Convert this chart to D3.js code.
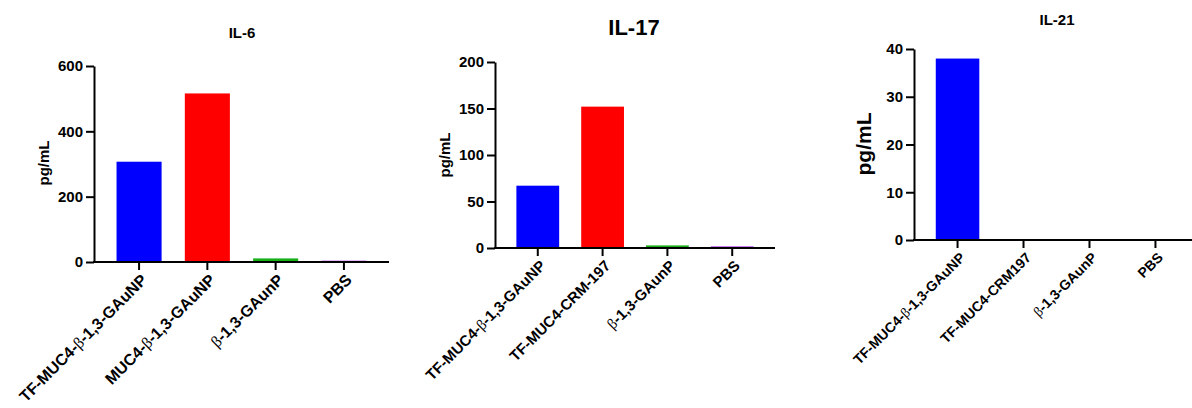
<!DOCTYPE html>
<html>
<head>
<meta charset="utf-8">
<script src="https://cdn.jsdelivr.net/npm/d3@7"></script>
<style>
  body { margin: 0; background: #fff; }
  svg { font-family: Arial, "Liberation Sans", sans-serif; }
</style>
</head>
<body>
<svg id="chart" width="1192" height="408"></svg>
<script>
// data
const il6Categories = ["TF-MUC4-β-1,3-GAuNP", "MUC4-β-1,3-GAuNP", "β-1,3-GAunP", "PBS"];
const il6Values = [307, 516, 11, 4];
const il6Ticks = [0, 200, 400, 600];

const il17Categories = ["TF-MUC4-β-1,3-GAuNP", "TF-MUC4-CRM-197", "β-1,3-GAunP", "PBS"];
const il17Values = [67, 152, 2.8, 1.7];
const il17Ticks = [0, 50, 100, 150, 200];

const il21Categories = ["TF-MUC4-β-1,3-GAuNP", "TF-MUC4-CRM197", "β-1,3-GAunP", "PBS"];
const il21Values = [38, 0, 0, 0];
const il21Ticks = [0, 10, 20, 30, 40];

const barColors = ["#0000ff", "#ff0000", "#17b017", "#a020f0"];

const svg = d3.select("#chart");

// one panel = one small bar chart
function drawPanel(p) {
  const g = svg.append("g");

  const x = d3.scaleBand()
    .domain(p.categories)
    .range([p.x0, p.x1])
    .paddingInner(0.34)
    .paddingOuter(0.33);

  const y = d3.scaleLinear()
    .domain([0, p.ticks[p.ticks.length - 1]])
    .range([p.y0, p.y1]);

  // bars
  g.selectAll("rect.bar")
    .data(p.values)
    .enter().append("rect")
    .attr("class", "bar")
    .attr("x", (d, i) => x(p.categories[i]))
    .attr("width", x.bandwidth())
    .attr("y", d => y(d))
    .attr("height", d => y(0) - y(d))
    .style("fill", (d, i) => barColors[i]);

  // y axis
  const yAxis = g.append("g")
    .attr("transform", `translate(${p.x0},0)`)
    .call(d3.axisLeft(y).tickValues(p.ticks).tickSize(8).tickPadding(3).tickSizeOuter(0));
  yAxis.select(".domain").attr("stroke", "#000").attr("stroke-width", 2);
  yAxis.selectAll(".tick line").attr("stroke", "#000").attr("stroke-width", 2);
  yAxis.selectAll(".tick text")
    .style("font-size", "15px")
    .style("font-weight", "bold")
    .style("font-family", "Arial, 'Liberation Sans', sans-serif")
    .attr("fill", "#000");

  // x axis
  const xAxis = g.append("g")
    .attr("transform", `translate(0,${p.y0})`)
    .call(d3.axisBottom(x).tickSize(8).tickSizeOuter(0).tickFormat(""));
  xAxis.select(".domain").attr("stroke", "#000").attr("stroke-width", 2)
    .attr("d", `M${p.x0 - 1},0H${p.x1}`);
  xAxis.selectAll(".tick line").attr("stroke", "#000").attr("stroke-width", 2);

  // rotated category labels, beta set in a serif face
  p.categories.forEach(function (c) {
    const cx = x(c) + x.bandwidth() / 2;
    const t = g.append("text")
      .attr("transform", `translate(${cx + 5},${p.y0 + 15}) rotate(-45)`)
      .attr("text-anchor", "end")
      .attr("dy", "0.35em")
      .style("font-size", p.labelSize + "px")
      .style("font-weight", "bold")
      .attr("fill", "#000");
    c.split(/(β)/).forEach(function (part) {
      if (!part) return;
      const s = t.append("tspan").text(part);
      if (part === "β") {
        s.style("font-family", "'Liberation Serif', 'DejaVu Serif', serif")
          .style("font-weight", "normal");
      }
    });
  });

  // title
  g.append("text")
    .attr("x", p.titleX)
    .attr("y", p.titleY)
    .attr("text-anchor", "middle")
    .style("font-size", p.titleSize + "px")
    .style("font-weight", "bold")
    .text(p.title);

  // y label
  g.append("text")
    .attr("transform", `translate(${p.ylabX},${p.ylabY}) rotate(-90)`)
    .attr("text-anchor", "middle")
    .style("font-size", p.ylabSize + "px")
    .style("font-weight", "bold")
    .text("pg/mL");
}

drawPanel({
  title: "IL-6", categories: il6Categories, values: il6Values, ticks: il6Ticks,
  x0: 94, x1: 389, y0: 262, y1: 66,
  labelSize: 16, titleSize: 15, titleX: 242, titleY: 38,
  ylabX: 49, ylabY: 163, ylabSize: 15
});

drawPanel({
  title: "IL-17", categories: il17Categories, values: il17Values, ticks: il17Ticks,
  x0: 495, x1: 775, y0: 248, y1: 62,
  labelSize: 15, titleSize: 22, titleX: 634, titleY: 35,
  ylabX: 450, ylabY: 155, ylabSize: 15
});

drawPanel({
  title: "IL-21", categories: il21Categories, values: il21Values, ticks: il21Ticks,
  x0: 914, x1: 1199, y0: 240, y1: 49,
  labelSize: 14, titleSize: 15, titleX: 1057, titleY: 25,
  ylabX: 871, ylabY: 144, ylabSize: 21
});
</script>
</body>
</html>
